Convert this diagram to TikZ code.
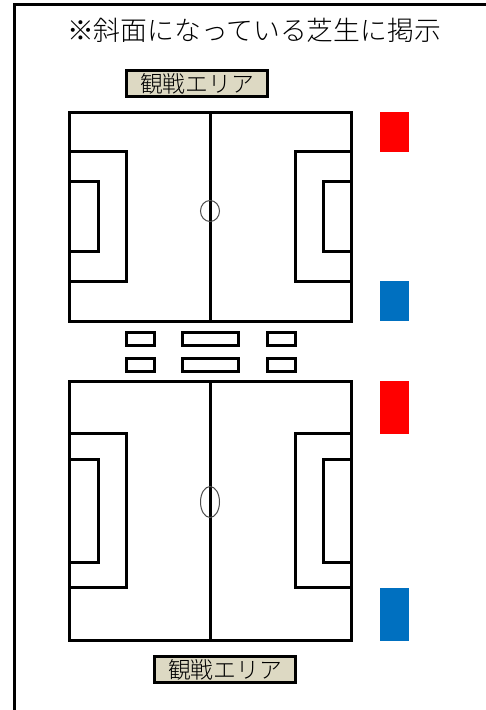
\documentclass[tikz,border=0pt]{standalone}
\usepackage{xcolor}
\usepackage{fontspec}
\usetikzlibrary{positioning}
\newfontfamily\jpfont{Noto Sans CJK JP Light}
\definecolor{areafill}{HTML}{DDD9C3}
\definecolor{flagred}{HTML}{FF0000}
\definecolor{flagblue}{HTML}{0070C0}

\begin{document}
\begin{tikzpicture}[
  x=1pt, y=-1pt,
  pitch/.style={draw=black, line width=3pt, fill=white, inner sep=0pt, outer sep=0pt},
  tent/.style={pitch, minimum height=13pt},
  area/.style={pitch, fill=areafill, font=\jpfont\fontsize{22.8pt}{23pt}\selectfont,
               minimum width=141pt, minimum height=26pt},
  flag/.style={inner sep=0pt, outer sep=0pt, minimum width=29pt},
  line/.style={draw=black, line width=3pt},
  spot/.style={draw=black!70, line width=1pt},
]
  \useasboundingbox[clip] (0,0) rectangle (486,710);
  %% outer frame, runs off the page
  \coordinate (FB) at (14,712);
  \coordinate (FT) at (14,4.5);
  \coordinate (FR) at (488,4.5);
  \draw[line] (FB) -- (FT) -- (FR);
  \node[font=\jpfont\fontsize{26.8pt}{30pt}\selectfont] (title) at (254,30)
    {※斜面になっている芝生に掲示};
  \node[area] (A1) at (197,83.5) {観戦エリア};
  %% upper pitch
  \node[pitch, minimum width=282pt, minimum height=209pt] (P1) at (210.5,217) {};
  \draw[line] (P1.north) -- (P1.south);
  \draw[line] (69.5,151.5) -| (126.5,281.5) -- (69.5,281.5);
  \draw[line] (69.5,181.5) -| (98.5,251.5) -- (69.5,251.5);
  \draw[line] (351.5,151.5) -| (295.5,281.5) -- (351.5,281.5);
  \draw[line] (351.5,181.5) -| (323.5,251.5) -- (351.5,251.5);
  \draw[spot] (210,211) ellipse (9.5 and 10.5);
  \node[flag, fill=flagred,  minimum height=40pt] (R1) at (394.5,132) {};
  \node[flag, fill=flagblue, minimum height=40pt] (B1) at (394.5,301) {};
  %% boxes between the pitches
  \node[tent, minimum width=28pt] (T1) at (140.5,339) {};
  \node[tent, minimum width=56pt] (T2) at (210.5,339) {};
  \node[tent, minimum width=28pt] (T3) at (281.5,339) {};
  \node[tent, minimum width=28pt] (T4) at (140.5,365) {};
  \node[tent, minimum width=56pt] (T5) at (210.5,365) {};
  \node[tent, minimum width=28pt] (T6) at (281.5,365) {};
  %% lower pitch
  \node[pitch, minimum width=282pt, minimum height=259pt] (P2) at (210.5,511) {};
  \draw[line] (P2.north) -- (P2.south);
  \draw[line] (69.5,433.5) -| (126.5,587.5) -- (69.5,587.5);
  \draw[line] (69.5,459.5) -| (98.5,562.5) -- (69.5,562.5);
  \draw[line] (351.5,433.5) -| (295.5,587.5) -- (351.5,587.5);
  \draw[line] (351.5,459.5) -| (323.5,562.5) -- (351.5,562.5);
  \draw[spot] (210,502) ellipse (9.5 and 15.5);
  \node[flag, fill=flagred,  minimum height=53pt] (R2) at (394.5,407.5) {};
  \node[flag, fill=flagblue, minimum height=53pt] (B2) at (394.5,614.5) {};
  \node[area] (A2) at (225,669.5) {観戦エリア};
\end{tikzpicture}
\end{document}
